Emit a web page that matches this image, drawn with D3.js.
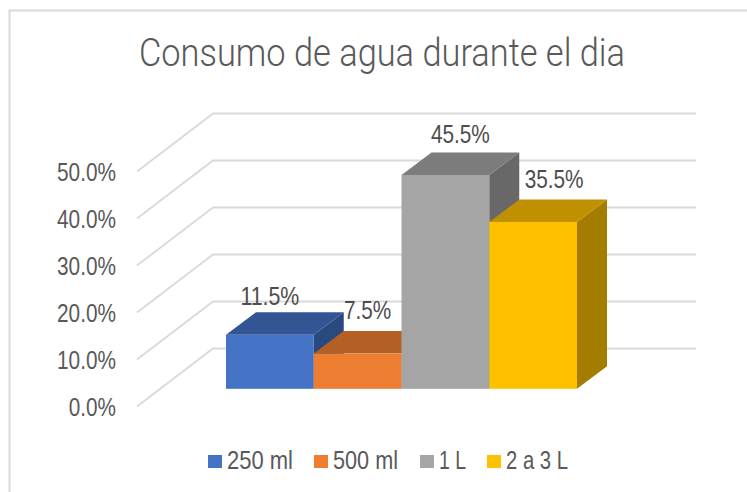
<!DOCTYPE html>
<html>
<head>
<meta charset="utf-8">
<script src="https://cdnjs.cloudflare.com/ajax/libs/d3/7.8.5/d3.min.js"></script>
<style>
html, body { margin: 0; padding: 0; background: #fff; }
svg { display: block; }
text { font-family: "Liberation Sans", sans-serif; fill: #595959; }
</style>
</head>
<body>
<svg id="chart" width="747" height="492"></svg>
<script>
var titleText = "Consumo de agua durante el dia";
var categories = ["250 ml", "500 ml", "1 L", "2 a 3 L"];
var values = [11.5, 7.5, 45.5, 35.5];
var tickValues = [0, 10, 20, 30, 40, 50];
var frontColors = ["#4472C4", "#ED7D31", "#A5A5A5", "#FFC000"];
var topColors = ["#335593", "#B45F26", "#7C7C7C", "#BF9000"];
var sideColors = ["#2A4A7F", "#9E5321", "#686868", "#A47C00"];

// layout
var wallDx = 76, wallDy = -58;   // floor depth of the gridlines
var barDx = 30, barDy = -22.5;   // depth of a single bar
var barInset = 17.7;             // bars stand this far above the front floor edge
var gridLeft = 137, gridRight = 696;
var labelNudge = [[0, -7], [10, -12], [15, -9], [21, -11]];
var legendSwatchX = [208, 314, 420, 487];
var legendWidths = [66, 65, 27, 62];

var svg = d3.select("#chart");

svg.append("path")
	.attr("d", "M9.5,492V10.5H747")
	.attr("fill", "none")
	.attr("stroke", "#d9d9d9")
	.attr("stroke-width", 2);

svg.append("text")
	.attr("x", 139)
	.attr("y", 66)
	.attr("font-size", 39)
	.attr("font-weight", 300)
	.style("font-family", "Roboto, \"Liberation Sans\", sans-serif")
	.attr("textLength", 486)
	.attr("lengthAdjust", "spacingAndGlyphs")
	.text(titleText);

var y = d3.scaleLinear().domain([0, 50]).range([406.5, 171.5]);
var x = d3.scaleBand().domain(categories).range([226, 577]);

// width of a percent label squeezed to match the narrow face
function pctWidth(s){ return s.length * 11.8; }
function pct(d){ return d3.format(".1f")(d) + "%"; }

// gridlines: up the side wall, then along the back wall
svg.append("g").selectAll("path")
	.data(tickValues)
	.enter()
	.append("path")
	.attr("d", function(d){
		return "M" + gridLeft + "," + y(d) + "L" + (gridLeft + wallDx) + "," + (y(d) + wallDy) + "H" + gridRight;
	})
	.attr("fill", "none")
	.attr("stroke", "#d9d9d9")
	.attr("stroke-width", 1.8);

var axis = d3.axisLeft(y)
	.tickValues(tickValues)
	.tickSize(0)
	.tickPadding(0)
	.tickFormat(pct);

var axisG = svg.append("g")
	.attr("transform", "translate(116,0)")
	.call(axis);
axisG.select(".domain").remove();
axisG.selectAll("text")
	.attr("font-size", 26)
	.attr("dy", "0.33em")
	.attr("textLength", function(d){ return pctWidth(pct(d)); })
	.attr("lengthAdjust", "spacingAndGlyphs")
	.style("font-family", "\"Liberation Sans\", sans-serif")
	.style("fill", "#595959");

// bars, left to right so each one covers the side of the previous
var bars = svg.append("g").selectAll("g")
	.data(categories)
	.enter()
	.append("g");

function barBox(i){
	var x0 = x(categories[i]), x1 = x0 + x.bandwidth();
	return { x0: x0, x1: x1, top: y(values[i]) - barInset, base: y(0) - barInset };
}

bars.append("path")
	.attr("fill", function(d, i){ return sideColors[i]; })
	.attr("d", function(d, i){
		var b = barBox(i);
		return "M" + b.x1 + "," + b.top + "l" + barDx + "," + barDy + "V" + (b.base + barDy) + "L" + b.x1 + "," + b.base + "Z";
	});
bars.append("path")
	.attr("fill", function(d, i){ return topColors[i]; })
	.attr("d", function(d, i){
		var b = barBox(i);
		return "M" + b.x0 + "," + b.top + "l" + barDx + "," + barDy + "H" + (b.x1 + barDx) + "L" + b.x1 + "," + b.top + "Z";
	});
bars.append("rect")
	.attr("fill", function(d, i){ return frontColors[i]; })
	.attr("x", function(d, i){ return barBox(i).x0; })
	.attr("y", function(d, i){ return barBox(i).top; })
	.attr("width", x.bandwidth())
	.attr("height", function(d, i){ var b = barBox(i); return b.base - b.top; });

// data labels
svg.append("g").selectAll("text")
	.data(values)
	.enter()
	.append("text")
	.attr("text-anchor", "middle")
	.attr("font-size", 26)
	.style("fill", "#4d4d4d")
	.attr("x", function(d, i){ return x(categories[i]) + x.bandwidth() / 2 + labelNudge[i][0]; })
	.attr("y", function(d, i){ return barBox(i).top + barDy + labelNudge[i][1]; })
	.attr("textLength", function(d){ return pctWidth(pct(d)); })
	.attr("lengthAdjust", "spacingAndGlyphs")
	.text(pct);

// legend
var legend = svg.append("g").selectAll("g")
	.data(categories)
	.enter()
	.append("g")
	.attr("transform", function(d, i){ return "translate(" + legendSwatchX[i] + ",455)"; });
legend.append("rect")
	.attr("width", 14)
	.attr("height", 13)
	.attr("fill", function(d, i){ return frontColors[i]; });
legend.append("text")
	.attr("x", 19)
	.attr("y", 14)
	.attr("font-size", 25)
	.attr("textLength", function(d, i){ return legendWidths[i]; })
	.attr("lengthAdjust", "spacingAndGlyphs")
	.text(function(d){ return d; });
</script>
</body>
</html>
